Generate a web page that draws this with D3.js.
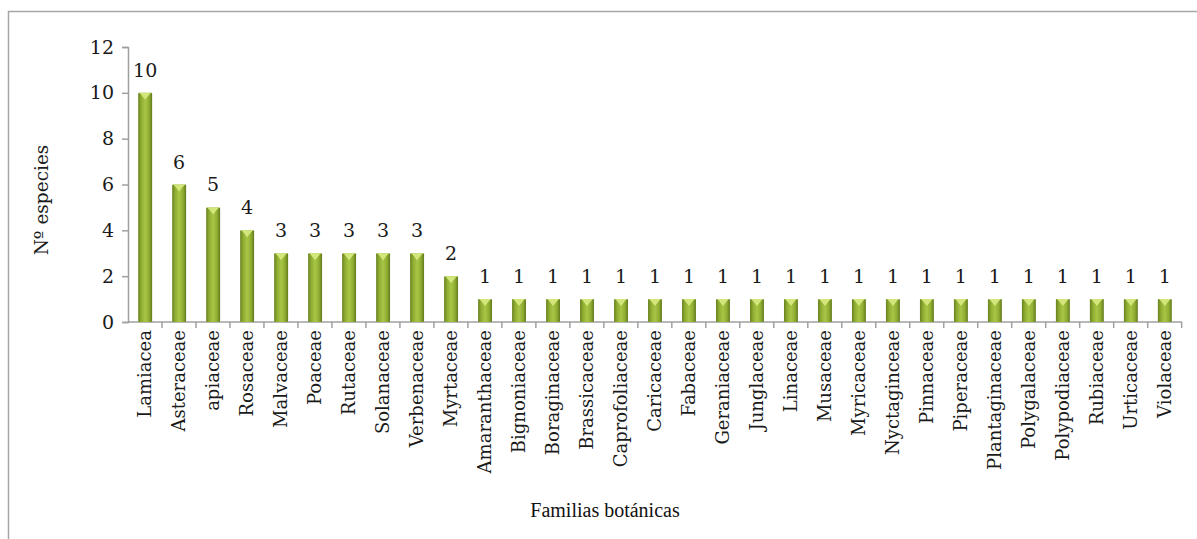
<!DOCTYPE html>
<html>
<head>
<meta charset="utf-8">
<script src="https://cdn.jsdelivr.net/npm/d3@7"></script>
<style>
  body { margin: 0; background: #fff; }
  svg { display: block; }
</style>
</head>
<body>
<svg id="chart" width="1197" height="539"></svg>
<script>
// Familias botánicas y número de especies
const families = [
  'Lamiacea', 'Asteraceae', 'apiaceae', 'Rosaceae', 'Malvaceae', 'Poaceae',
  'Rutaceae', 'Solanaceae', 'Verbenaceae', 'Myrtaceae', 'Amaranthaceae',
  'Bignoniaceae', 'Boraginaceae', 'Brassicaceae', 'Caprofoliaceae', 'Caricaceae',
  'Fabaceae', 'Geraniaceae', 'Junglaceae', 'Linaceae', 'Musaceae', 'Myricaceae',
  'Nyctagincеae', 'Pinnaceae', 'Piperaceae', 'Plantaginaceae', 'Polygalaceae',
  'Polypodiaceae', 'Rubiaceae', 'Urticaceae', 'Violaceae'
].map(s => s.replace('\u0435', 'e'));
const species = [10, 6, 5, 4, 3, 3, 3, 3, 3, 2, 1, 1, 1, 1, 1, 1, 1, 1, 1, 1, 1, 1, 1, 1, 1, 1, 1, 1, 1, 1, 1];
const yTicks = [0, 2, 4, 6, 8, 10, 12];

const svg = d3.select('#chart');
const margin = { left: 128, right: 1182, top: 47, bottom: 322 };
const serif = "'DejaVu Serif', serif";
const ink = '#1a1a1a';

// outer frame
svg.append('rect')
  .attr('x', 8.5).attr('y', 11.5)
  .attr('width', 1300).attr('height', 600)
  .attr('fill', 'none')
  .attr('stroke', '#a6a6a6')
  .attr('stroke-width', 1.5);

const x = d3.scaleBand()
  .domain(families)
  .range([margin.left, margin.right])
  .paddingInner(0.59)
  .paddingOuter(0.3);

const y = d3.scaleLinear()
  .domain([0, 12])
  .range([margin.bottom, margin.top]);

// gradient for the bars
const defs = svg.append('defs');
const grad = defs.append('linearGradient')
  .attr('id', 'barGrad')
  .attr('x1', '0%').attr('x2', '100%').attr('y1', '0%').attr('y2', '0%');
grad.append('stop').attr('offset', '0%').attr('stop-color', '#67811f');
grad.append('stop').attr('offset', '22%').attr('stop-color', '#8fae32');
grad.append('stop').attr('offset', '50%').attr('stop-color', '#a8c646');
grad.append('stop').attr('offset', '78%').attr('stop-color', '#8fae32');
grad.append('stop').attr('offset', '100%').attr('stop-color', '#617a1c');

// y axis
const yAxis = svg.append('g')
  .attr('transform', `translate(${margin.left},0)`)
  .call(d3.axisLeft(y).tickValues(yTicks).tickSize(6).tickPadding(8));
yAxis.select('.domain').attr('stroke', '#a0a0a0').attr('stroke-width', 1.5);
yAxis.selectAll('.tick line').attr('stroke', '#a0a0a0').attr('stroke-width', 1.5);
yAxis.selectAll('.tick text')
  .attr('font-family', serif)
  .attr('font-size', 19)
  .attr('fill', ink);

// x axis line and boundary ticks
const step = x.step();
const boundaries = d3.range(families.length + 1).map(i => margin.left + i * step);
svg.append('line')
  .attr('x1', margin.left).attr('x2', margin.right)
  .attr('y1', margin.bottom).attr('y2', margin.bottom)
  .attr('stroke', '#a0a0a0').attr('stroke-width', 1.5);
svg.selectAll('.xtick')
  .data(boundaries.slice(1))
  .join('line')
  .attr('class', 'xtick')
  .attr('x1', d => d).attr('x2', d => d)
  .attr('y1', margin.bottom).attr('y2', margin.bottom + 6)
  .attr('stroke', '#a0a0a0').attr('stroke-width', 1.5);

// bars
const bars = svg.selectAll('.bar')
  .data(families.map((f, i) => ({ name: f, value: species[i] })))
  .join('g')
  .attr('class', 'bar');

bars.append('rect')
  .attr('x', d => x(d.name))
  .attr('y', d => y(d.value))
  .attr('width', x.bandwidth())
  .attr('height', d => y(0) - y(d.value))
  .attr('rx', 1)
  .attr('fill', 'url(#barGrad)');

// bevel highlight on bar top
bars.append('path')
  .attr('d', d => {
    const x0 = x(d.name), w = x.bandwidth(), t = y(d.value);
    return `M${x0 + 1},${t}L${x0 + w - 1},${t}L${x0 + w - 3},${t + 2}L${x0 + w / 2},${t + 7}L${x0 + 3},${t + 2}Z`;
  })
  .attr('fill', '#d2e67c');

// value labels
bars.append('text')
  .attr('x', d => x(d.name) + x.bandwidth() / 2)
  .attr('y', d => y(d.value) - 16)
  .attr('text-anchor', 'middle')
  .attr('font-family', serif)
  .attr('font-size', 19)
  .attr('fill', ink)
  .text(d => d.value);

// category labels
svg.selectAll('.cat')
  .data(families)
  .join('text')
  .attr('class', 'cat')
  .attr('transform', d => `translate(${x(d) + x.bandwidth() / 2 + 6},${margin.bottom + 8}) rotate(-90)`)
  .attr('text-anchor', 'end')
  .attr('font-family', serif)
  .attr('font-size', 18)
  .attr('fill', ink)
  .text(d => d);

// axis titles
svg.append('text')
  .attr('transform', 'translate(48,200) rotate(-90)')
  .attr('text-anchor', 'middle')
  .attr('font-family', serif)
  .attr('font-size', 18.5)
  .attr('fill', ink)
  .text('Nº especies');

svg.append('text')
  .attr('x', 605).attr('y', 517)
  .attr('text-anchor', 'middle')
  .attr('font-family', "'Liberation Serif', serif")
  .attr('font-size', 20)
  .attr('fill', '#111')
  .text('Familias botánicas');
</script>
</body>
</html>
